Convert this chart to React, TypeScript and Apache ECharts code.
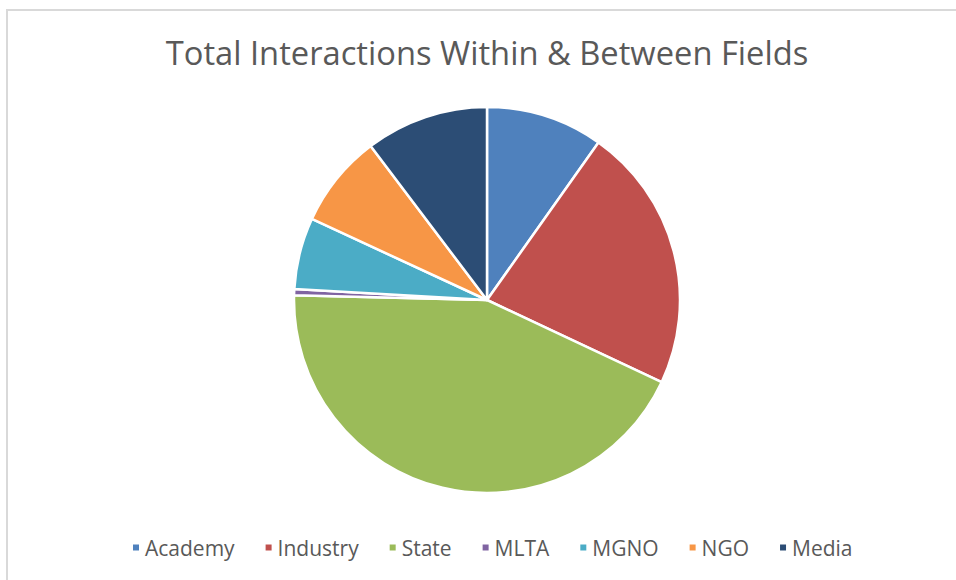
import React, { useEffect, useRef } from "react";
import * as echarts from "echarts";

const categories = ["Academy", "Industry", "State", "MLTA", "MGNO", "NGO", "Media"];
const values = [9.8, 22.2, 43.4, 0.5, 6.0, 7.8, 10.3];
const colors = ["#4F81BD", "#C0504D", "#9BBB59", "#8064A2", "#4BACC6", "#F79646", "#2C4D75"];
const titleText = "Total Interactions Within & Between Fields";

const FONT = "'Open Sans', sans-serif";

export default function App() {
  const ref = useRef<HTMLDivElement>(null);
  useEffect(() => {
    if (!ref.current) return;
    const chart = echarts.init(ref.current, null, { renderer: "svg" });
    chart.setOption({
      animation: false,
      backgroundColor: "#ffffff",
      title: {
        text: titleText,
        left: 482,
        top: 31,
        textAlign: "center",
        textStyle: { color: "#595959", fontFamily: FONT, fontSize: 32.7, fontWeight: "normal" },
      },
      legend: {
        data: categories,
        left: 126,
        top: 532,
        icon: "rect",
        itemWidth: 8,
        itemHeight: 8,
        itemGap: 29,
        textStyle: { color: "#595959", fontFamily: FONT, fontSize: 21 },
      },
      graphic: [
        {
          type: "rect",
          shape: { x: 7, y: 10, width: 1000, height: 1000 },
          style: { fill: "none", stroke: "#D9D9D9", lineWidth: 2 },
          silent: true,
        },
      ],
      series: [
        {
          type: "pie",
          center: [487, 300],
          radius: [0, 193],
          startAngle: 90,
          clockwise: true,
          label: { show: false },
          labelLine: { show: false },
          itemStyle: { borderColor: "#ffffff", borderWidth: 2.5 },
          data: categories.map((name, i) => ({
            name,
            value: values[i],
            itemStyle: { color: colors[i] },
          })),
        },
      ],
    });
    return () => chart.dispose();
  }, []);
  return (
    <div
      ref={ref}
      style={{ position: "fixed", left: 0, top: 0, width: 956, height: 580 }}
    />
  );
}
